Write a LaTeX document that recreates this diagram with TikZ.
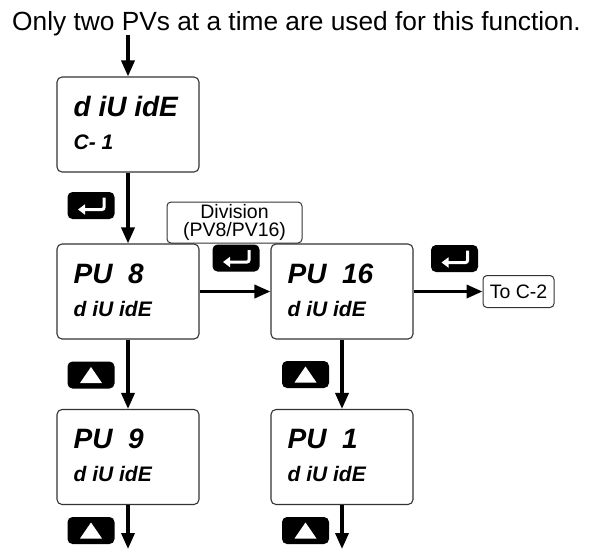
\documentclass[tikz,border=0pt]{standalone}
\usepackage{fontspec}
\setmainfont{Liberation Sans}
\usepackage{tikz}
\usetikzlibrary{arrows.meta,positioning,calc}
\definecolor{lcdEdge}{HTML}{333333}
\newcommand{\lcdbig}{\fontsize{28}{28}\selectfont\bfseries\itshape}
\newcommand{\lcdsmall}{\fontsize{21}{21}\selectfont\bfseries\itshape}

\begin{document}
\begin{tikzpicture}[x=1pt,y=-1pt,>={Triangle[width=13pt,length=16pt]},
  lcd/.style={draw=lcdEdge,line width=1.1pt,rounded corners=5pt,minimum width=142pt,minimum height=95pt,inner sep=0pt},
  btn/.style={fill=black,rounded corners=5pt,minimum width=47pt,minimum height=27pt,inner sep=0pt},
  tagbox/.style={draw=lcdEdge,line width=1pt,rounded corners=4pt,align=center,inner sep=0pt,font=\fontsize{19.5}{18.5}\selectfont},
  flow/.style={->,line width=3.5pt},
  topline/.style={anchor=base west,inner sep=0pt,font=\lcdbig},
  subline/.style={anchor=base west,inner sep=0pt,font=\lcdsmall}
]
  \useasboundingbox (0,0) rectangle (605,550);

  \node[anchor=base,inner sep=0pt,font=\fontsize{26.3}{26.3}\selectfont] (title) at (296.5,30)
    {Only two PVs at a time are used for this function.};

  % display screens
  \node[lcd] (s1) at (128,124.5) {};
  \node[lcd] (s2) at (128,291.5) {};
  \node[lcd] (s3) at (342,291.5) {};
  \node[lcd] (s4) at (128,457) {};
  \node[lcd] (s5) at (342,457) {};

  \node[topline] (s1a) at ($(s1.north west)+(17,40)$) {d iU idE};
  \node[subline] (s1b) at ($(s1.north west)+(17,73)$) {C- 1};
  \node[topline] (s2a) at ($(s2.north west)+(17,40)$) {PU~~8};
  \node[subline] (s2b) at ($(s2.north west)+(17,73)$) {d iU idE};
  \node[topline] (s3a) at ($(s3.north west)+(17,40)$) {PU~~16};
  \node[subline] (s3b) at ($(s3.north west)+(17,73)$) {d iU idE};
  \node[topline] (s4a) at ($(s4.north west)+(17,40)$) {PU~~9};
  \node[subline] (s4b) at ($(s4.north west)+(17,73)$) {d iU idE};
  \node[topline] (s5a) at ($(s5.north west)+(17,40)$) {PU~~1};
  \node[subline] (s5b) at ($(s5.north west)+(17,73)$) {d iU idE};

  \node[tagbox,minimum width=135pt,minimum height=41pt] (div) at (234.5,222.5) {Division\\(PV8/PV16)};
  \node[tagbox,minimum width=71pt,minimum height=32pt] (toc) at (518.5,291.5) {To C-2};

  % keys
  \node[btn] (ent1) at (91,205.5) {};
  \node[btn] (ent2) at (236,258) {};
  \node[btn] (ent3) at (454.5,258.5) {};
  \node[btn] (up1) at (91,375) {};
  \node[btn] (up2) at (305.5,374.5) {};
  \node[btn] (up3) at (305.5,530.5) {};
  \node[btn] (up4) at (91,530.5) {};

  \foreach \b in {ent1,ent2,ent3}
    \draw[white,line width=3pt,-{Triangle[width=10pt,length=7pt]},rounded corners=2pt]
      ($(\b.center)+(13,-8)$) -- ($(\b.center)+(13,4)$) -- ($(\b.center)+(-13,4)$);
  \foreach \b in {up1,up2,up3,up4}
    \fill[white] ($(\b.center)+(0,-8)$) -- ($(\b.center)+(11,8)$) -- ($(\b.center)+(-11,8)$) -- cycle;

  \coordinate (in) at (128,35);
  \coordinate (out1) at (128,549);
  \coordinate (out2) at (342,549);

  \draw[flow] (in) -- (s1);
  \draw[flow] (s1) -- (s2);
  \draw[flow] (s2) -- (s3);
  \draw[flow] (s3) -- (toc);
  \draw[flow] (s2) -- (s4);
  \draw[flow] (s3) -- (s5);
  \draw[flow] (s4) -- (out1);
  \draw[flow] (s5) -- (out2);
\end{tikzpicture}
\end{document}
